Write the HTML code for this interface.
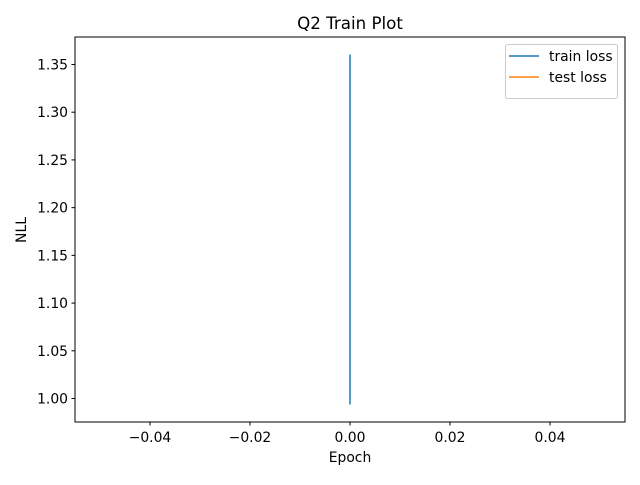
<!DOCTYPE html>
<html><head><meta charset="utf-8"><style>
body{margin:0;background:#fff;}
svg text{font-family:"DejaVu Sans","Liberation Sans",sans-serif;font-size:13.9px;fill:#000;}
</style></head><body>
<svg id="chart" width="640" height="480" xmlns="http://www.w3.org/2000/svg">
<rect width="640" height="480" fill="#fff"/>
<text x="350" y="29" text-anchor="middle" style="font-size:16.7px">Q2 Train Plot</text>
<g id="xt"></g>
<g id="yt"></g>
<g id="series"></g>
<rect x="75" y="37" width="550" height="385" fill="none" stroke="#000" stroke-width="1"/>
<text x="350" y="462" text-anchor="middle">Epoch</text>
<text transform="translate(26,230) rotate(-90)" text-anchor="middle">NLL</text>
<g>
<rect x="505.5" y="44.5" width="112" height="54" rx="2" fill="#fff" fill-opacity="0.8" stroke="#ccc"/>
<line x1="509" y1="56" x2="539" y2="56" stroke="#1f77b4" stroke-width="1.5"/>
<text x="549" y="61">train loss</text>
<line x1="509" y1="77" x2="539" y2="77" stroke="#ff7f0e" stroke-width="1.5"/>
<text x="549" y="82">test loss</text>
</g>
</svg>
<script>
const trainEpochs=[0,0];
const trainLoss=[1.3605,0.9937];
const testEpochs=[0];
const testLoss=[1.17];
const xTicks=[-0.04,-0.02,0.00,0.02,0.04];
const xTickLabels=["\u22120.04","\u22120.02","0.00","0.02","0.04"];
const yTicks=[1.00,1.05,1.10,1.15,1.20,1.25,1.30,1.35];
const yTickLabels=["1.00","1.05","1.10","1.15","1.20","1.25","1.30","1.35"];
const NS="http://www.w3.org/2000/svg";
const L=75,R=625,T=37,B=422;
const xmin=-0.055,xmax=0.055,ymin=0.9754,ymax=1.3788;
const sx=v=>L+(v-xmin)/(xmax-xmin)*(R-L);
const sy=v=>B-(v-ymin)/(ymax-ymin)*(B-T);
function mk(tag,attrs,parent){const e=document.createElementNS(NS,tag);for(const k in attrs)e.setAttribute(k,attrs[k]);parent.appendChild(e);return e;}
const xg=document.getElementById('xt'),yg=document.getElementById('yt'),sg=document.getElementById('series');
xTicks.forEach((v,i)=>{const x=sx(v);
const t=mk('line',{x1:x,x2:x,y1:B,y2:B+3.5,stroke:'#000'},xg);


const tx=mk('text',{x:x,y:B+20,'text-anchor':'middle'},xg);tx.textContent=xTickLabels[i];

});
yTicks.forEach((v,i)=>{const y=sy(v);
const t=mk('line',{x1:L-3.5,x2:L,y1:y,y2:y,stroke:'#000'},yg);


const tx=mk('text',{x:L-7,y:y+5,'text-anchor':'end'},yg);tx.textContent=yTickLabels[i];

});
function line(xs,ys,color,name){const pts=xs.map((x,i)=>sx(x)+','+sy(ys[i])).join(' ');
const p=mk('polyline',{points:pts,fill:'none',stroke:color,'stroke-width':1.5},sg);

}
line(trainEpochs,trainLoss,'#1f77b4','train-loss-line');
line(testEpochs,testLoss,'#ff7f0e','test-loss-line');
</script>
</body></html>
